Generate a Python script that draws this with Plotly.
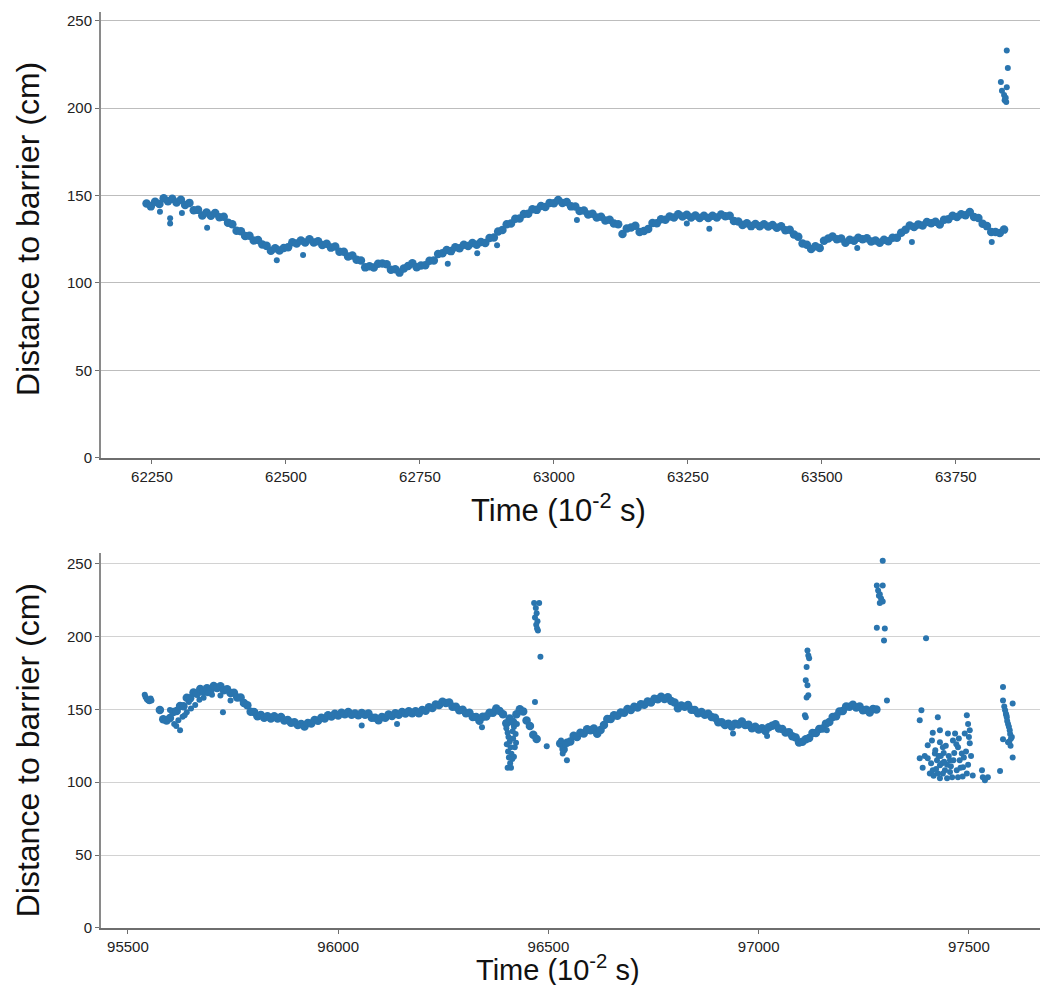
import plotly.graph_objects as go

# ---------------- Top panel data ----------------
top_time = [
    62240,62248,62256,62264,62272,62280,62288,62296,62304,62312,
    62320,62328,62336,62344,62352,62360,62368,62376,62384,62392,
    62400,62408,62416,62424,62432,62440,62448,62456,62464,62472,
    62480,62488,62496,62504,62512,62520,62528,62536,62544,62552,
    62560,62568,62576,62584,62592,62600,62608,62616,62624,62632,
    62640,62648,62656,62664,62672,62680,62688,62696,62704,62712,
    62720,62728,62736,62744,62752,62760,62768,62776,62784,62792,
    62800,62808,62816,62824,62832,62840,62848,62856,62864,62872,
    62880,62888,62896,62904,62912,62920,62928,62936,62944,62952,
    62960,62968,62976,62984,62992,63000,63008,63016,63024,63032,
    63040,63048,63056,63064,63072,63080,63088,63096,63104,63112,
    63120,63128,63136,63144,63152,63160,63168,63176,63184,63192,
    63200,63208,63216,63224,63232,63240,63248,63256,63264,63272,
    63280,63288,63296,63304,63312,63320,63328,63336,63344,63352,
    63360,63368,63376,63384,63392,63400,63408,63416,63424,63432,
    63440,63448,63456,63464,63472,63480,63488,63496,63504,63512,
    63520,63528,63536,63544,63552,63560,63568,63576,63584,63592,
    63600,63608,63616,63624,63632,63640,63648,63656,63664,63672,
    63680,63688,63696,63704,63712,63720,63728,63736,63744,63752,
    63760,63768,63776,63784,63792,63800,63808,63816,63824,63832,
    63840]
top_dist = [
    145.5,143.8,146.5,145.2,148.4,146.8,148.2,146.0,147.6,144.6,
    145.8,141.6,141.8,138.6,140.3,138.4,140.0,137.6,137.9,134.5,
    133.6,129.8,129.6,126.8,127.0,124.3,124.6,122.0,121.2,118.4,
    119.8,118.5,120.0,120.4,123.3,122.5,124.3,123.2,125.0,123.1,
    123.8,121.7,122.4,120.2,120.8,117.9,117.8,115.1,115.7,113.3,
    112.8,108.9,109.6,108.8,111.0,111.1,110.7,107.6,107.8,105.9,
    108.2,109.7,111.2,109.0,110.0,110.1,112.7,112.9,116.6,117.0,
    118.9,118.2,120.4,119.8,121.9,121.1,122.8,121.8,123.4,122.9,
    125.7,126.0,129.4,130.3,133.6,134.0,136.7,136.9,139.4,139.6,
    142.1,141.8,144.0,143.5,145.8,145.6,147.5,145.7,146.3,143.8,
    143.7,141.2,141.4,139.2,139.6,137.5,137.8,135.7,136.1,134.0,
    133.6,128.0,131.2,131.7,132.7,129.2,129.7,130.8,134.3,134.2,
    136.4,136.1,138.0,137.4,139.3,138.0,139.0,137.4,138.6,137.2,
    138.5,137.1,138.4,137.5,139.1,138.1,138.4,135.4,135.2,133.2,
    134.1,132.5,133.7,132.4,133.6,132.3,133.2,131.6,132.4,130.2,
    130.4,127.7,126.4,122.5,121.8,119.4,121.0,120.0,124.1,125.4,
    126.5,125.0,125.4,123.0,124.7,124.1,125.8,125.0,125.6,123.7,
    124.3,123.0,124.7,123.8,125.9,125.9,128.7,130.4,132.9,132.0,
    133.5,132.8,134.9,134.1,135.0,133.4,136.1,136.5,138.5,137.7,
    139.3,138.7,140.6,137.7,137.2,133.8,132.5,129.2,129.2,128.6,
    130.5]
top_stray_time = [62265,62284,62284,62306,62353,62483,62532,62802,62857,62894,
                  63043,63248,63290,63566,63668,63817,
                  63845,63847,63834,63845,63836,63840,63843,63841,63844,63842]
top_stray_dist = [140.7,137,134,140,131.5,113,116,111,117,121.6,
                  136,134,131,120,123.4,123.4,
                  233,223,215,212,210,207.5,206,204.5,203.5,205.5]

# ---------------- Bottom panel data ----------------
bot_time_a = [
    95576,95584,95592,95600,95608,95616,95624,95632,95640,95648,
    95656,95664,95672,95680,95688,95696,95704,95712,95720,95728,
    95736,95744,95752,95760,95768,95776,95784,95792,95800,95808,
    95816,95824,95832,95840,95848,95856,95864,95872,95880,95888,
    95896,95904,95912,95920,95928,95936,95944,95952,95960,95968,
    95976,95984,95992,96000,96008,96016,96024,96032,96040,96048,
    96056,96064,96072,96080,96088,96096,96104,96112,96120,96128,
    96136,96144,96152,96160,96168,96176,96184,96192,96200,96208,
    96216,96224,96232,96240,96248,96256,96264,96272,96280,96288,
    96296,96304,96312,96320,96328,96336,96344,96352,96360,96368,
    96376,96384,96392,96400,96408,96416,96424,96432,96440,96448,
    96456,96464,96472]
bot_dist_a = [
    149.5,143.2,142.3,144.0,148.2,148.8,152.3,152.2,158.0,157.6,
    161.6,160.7,164.0,162.0,164.5,163.0,166.0,164.6,165.8,163.1,
    163.8,161.2,161.3,158.2,158.2,154.3,152.8,148.3,148.2,145.3,
    146.2,144.3,145.2,143.8,145.2,143.8,144.7,142.3,142.7,140.8,
    141.2,139.3,140.0,138.3,140.7,140.3,142.7,142.1,144.2,143.8,
    146.0,145.1,146.9,145.8,147.7,146.7,148.2,146.3,147.2,145.9,
    147.5,146.3,147.2,144.3,144.2,142.6,144.7,144.3,146.5,145.5,
    147.3,146.3,148.1,147.1,148.7,147.3,148.7,147.3,149.5,149.1,
    151.4,150.9,153.3,152.9,155.2,154.3,154.7,151.8,151.7,149.3,
    149.7,147.3,147.7,144.8,144.7,142.1,145.0,145.1,147.7,147.6,
    150.5,148.8,146.7,140.3,143.7,141.3,146.7,150.0,148.6,142.4,
    138.6,132.5,129.6]
bot_time_b = [
    96528,96536,96544,96552,96560,96568,96576,96584,96592,96600,
    96608,96616,96624,96632,96640,96648,96656,96664,96672,96680,
    96688,96696,96704,96712,96720,96728,96736,96744,96752,96760,
    96768,96776,96784,96792,96800,96808,96816,96824,96832,96840,
    96848,96856,96864,96872,96880,96888,96896,96904,96912,96920,
    96928,96936,96944,96952,96960,96968,96976,96984,96992,97000,
    97008,97016,97024,97032,97040,97048,97056,97064,97072,97080,
    97088,97096,97104,97112,97120,97128,97136,97144,97152,97160,
    97168,97176,97184,97192,97200,97208,97216,97224,97232,97240,
    97248,97256,97264,97272,97280]
bot_dist_b = [
    126.5,122.8,127.0,128.0,131.8,131.0,134.0,133.5,136.3,135.7,
    136.8,133.2,135.8,139.2,143.3,143.3,145.9,145.6,147.9,147.6,
    150.2,149.6,151.7,151.3,153.5,153.1,155.3,154.7,157.2,156.9,
    158.7,157.1,158.3,155.8,154.7,150.8,152.7,151.7,153.0,149.8,
    149.5,147.3,148.2,146.3,147.0,144.8,144.2,141.1,141.2,139.3,
    140.2,138.3,140.2,139.6,141.7,139.3,139.4,137.1,138.0,136.1,
    137.0,135.1,137.7,138.8,139.7,136.8,136.5,134.1,134.3,131.5,
    130.7,127.3,127.7,129.5,130.3,133.7,133.8,136.5,136.8,140.2,
    141.3,144.7,145.3,148.5,148.8,151.9,151.8,153.2,151.3,151.9,
    149.3,149.7,147.8,150.2,149.9]
bot_stray_time = [
    95540,95542,95545,95548,95551,95554,95556,
    95624,95610,95620,95630,95615,95640,95650,95660,95645,95670,95680,95700,95726,95600,95635,95690,95720,95744,
    96056,96140,96342,
    96398,96400,96403,96405,96408,96410,96404,96412,96406,96414,96409,96403,96411,96418,96420,96416,96422,96418,96425,96401,96415,96423,
    96466,96478,96470,96472,96468,96474,96471,96473,96475,96481,96468,
    96496,96530,96534,96538,96540,96544,
    96939,97020,97162,
    97110,97112,97114,97118,97116,97112,97114,97118,97116,97120,
    97295,97281,97295,97284,97288,97291,97295,97288,97286,97281,97300,97298,97305,
    97387,97383,97383,97402,97402,97414,97426,97431,97412,97431,97438,97419,97424,97431,97443,97455,97448,
    97467,97462,97474,97483,97471,97474,97490,97495,97502,97502,97486,97495,97509,97450,97407,97426,97414,
    97431,97460,97478,97531,97533,97545,97538,97574,97398,
    97420,97428,97436,97440,97445,97452,97457,97465,97470,97480,97488,97493,97498,97505,97410,97416,97438,
    97448,97455,97422,97433,97441,97463,97476,97485,97498,97500,97390,97395,
    97581,97581,97604,97586,97590,97593,97597,97581,97602,97593,97604,97588,97591,97595,97598,97600,97596,97599,97584,97589]
bot_stray_dist = [
    160,158.5,157,156,155.5,157.5,156,
    135.6,140,142.5,145,138.5,148,150.5,153,155,156.5,158,160,148,149.5,146,161,159.5,156,
    139,140,137.7,
    141,137,134,131,128,124,121,119.5,117,116,113,110,110,117.5,124,130,133,138,140,126,135,127,
    222.9,222.9,219.5,216,213,210.5,208,205.5,204,186,155,
    124.6,128.6,119.7,122,126,115,
    133.5,131.7,135.6,
    146,144.5,158.2,159.6,166.5,170,179,187,190.4,185,
    252,235,235,231.6,229,226,224,223,228,206,205.5,197.3,156,
    149.3,142.5,116.4,116.4,125.3,134,144.5,135.6,128.7,127.4,124,119.7,115,111.6,108.2,115,102.7,
    133.5,128.7,124,119.7,108.2,103.4,133.5,146,135.6,126.7,110.3,106,104.7,133.5,106,106,108.2,
    102.7,103.4,115,108.2,103.4,103.4,101.3,107.7,198.7,
    122,118,113,120,125,118,111,120,126,110,117,121,112,118,113,104.5,106,
    112,107,109,118,114,115,130,104,140,131,110,118,
    165.3,156,154,149.3,144.5,140,135.6,129.4,131,127.4,117,147,142,138,133,130,128,125,152,146]

Y_TICKS = [0, 50, 100, 150, 200, 250]
TOP_X_TICKS = [62250, 62500, 62750, 63000, 63250, 63500, 63750]
BOT_X_TICKS = [95500, 96000, 96500, 97000, 97500]

BAND = dict(color="#2a75af", size=8.5, line=dict(width=0))
DOT = dict(color="#2a75af", size=6, line=dict(width=0))

fig = go.Figure()
fig.add_trace(go.Scatter(x=top_time, y=top_dist, mode="markers", marker=BAND,
                         xaxis="x", yaxis="y", showlegend=False, hoverinfo="skip"))
fig.add_trace(go.Scatter(x=top_stray_time, y=top_stray_dist, mode="markers", marker=DOT,
                         xaxis="x", yaxis="y", showlegend=False, hoverinfo="skip"))
fig.add_trace(go.Scatter(x=bot_time_a, y=bot_dist_a, mode="markers", marker=BAND,
                         xaxis="x2", yaxis="y2", showlegend=False, hoverinfo="skip"))
fig.add_trace(go.Scatter(x=bot_time_b, y=bot_dist_b, mode="markers", marker=BAND,
                         xaxis="x2", yaxis="y2", showlegend=False, hoverinfo="skip"))
fig.add_trace(go.Scatter(x=bot_stray_time, y=bot_stray_dist, mode="markers", marker=DOT,
                         xaxis="x2", yaxis="y2", showlegend=False, hoverinfo="skip"))

FONT = "Liberation Sans, Arial, sans-serif"
tickfont = dict(family=FONT, size=15, color="#222222")

def xax(rng, ticks, anchor):
    return dict(range=rng, tickvals=ticks, ticktext=[str(t) for t in ticks],
                showline=True, linecolor="#6e6e6e", linewidth=2,
                ticks="outside", ticklen=4, tickcolor="#6e6e6e", tickwidth=1,
                showgrid=False, zeroline=False, tickfont=tickfont, anchor=anchor)

def yax(domain, top, gridcolor, anchor):
    return dict(domain=domain, range=[0, top], tickvals=Y_TICKS,
                showline=True, linecolor="#8a8a8a", linewidth=2,
                ticks="outside", ticklen=4, tickcolor="#6e6e6e", tickwidth=1,
                showgrid=True, gridcolor=gridcolor, gridwidth=1.4,
                zeroline=False, tickfont=tickfont, anchor=anchor)

# The page body has an 8px margin; the figure is sized to fit inside it.
fig.update_layout(
    width=1032, height=977,
    margin=dict(l=93, r=0, t=4, b=57),
    paper_bgcolor="white", plot_bgcolor="white",
    xaxis=xax([62155, 63907], TOP_X_TICKS, "y"),
    yaxis=yax([0.5134, 1.0], 255, "#bdbdbd", "x"),
    xaxis2=xax([95436, 97669], BOT_X_TICKS, "y2"),
    yaxis2=yax([0.0, 0.409], 257, "#d2d2d2", "x2"),
    annotations=[
        dict(text="Distance to barrier (cm)", xref="paper", yref="paper",
             x=0, xshift=-73, y=0.763, textangle=-90, showarrow=False,
             xanchor="center", yanchor="middle",
             font=dict(family=FONT, size=32, color="#111111")),
        dict(text="Distance to barrier (cm)", xref="paper", yref="paper",
             x=0, xshift=-73, y=0.194, textangle=-90, showarrow=False,
             xanchor="center", yanchor="middle",
             font=dict(family=FONT, size=32, color="#111111")),
        dict(text="Time (10<sup>-2</sup> s)", xref="paper", yref="paper",
             x=0.4867, y=0.4585, showarrow=False, xanchor="center", yanchor="middle",
             font=dict(family=FONT, size=31, color="#111111")),
        dict(text="Time (10<sup>-2</sup> s)", xref="paper", yref="paper",
             x=0.4867, y=-0.0437, showarrow=False, xanchor="center", yanchor="middle",
             borderpad=0,
             font=dict(family=FONT, size=29, color="#111111")),
    ],
)

fig.write_html("out.html")
